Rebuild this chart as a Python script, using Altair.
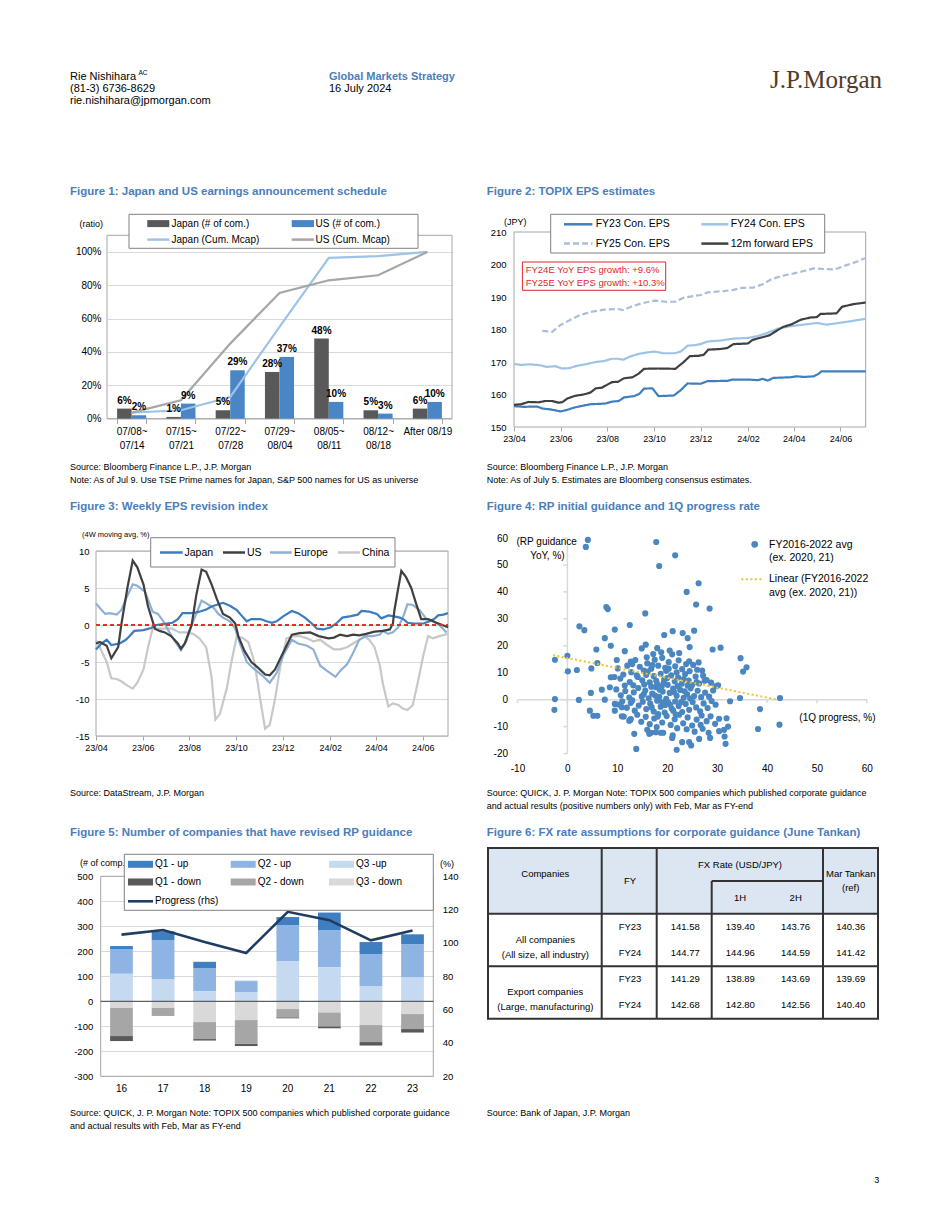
import altair as alt
import pandas as pd

FONT = "Liberation Sans"
TITLE_BLUE = "#4a7ebb"

# ---------------- Figure 1 data ----------------
f1_weeks = ["07/08~|07/14", "07/15~|07/21", "07/22~|07/28", "07/29~|08/04",
            "08/05~|08/11", "08/12~|08/18", "After 08/19"]
f1_japan_cnt = [0.06, 0.01, 0.05, 0.28, 0.48, 0.05, 0.06]
f1_us_cnt = [0.02, 0.09, 0.29, 0.37, 0.10, 0.03, 0.10]
f1_japan_cum = [0.036, 0.05, 0.13, 0.55, 0.965, 0.975, 1.0]
f1_us_cum = [0.036, 0.11, 0.45, 0.754, 0.83, 0.86, 1.0]

# ---------------- Figure 2 data (date, JPY) ----------------
f2_fy23 = [("2023-04-01", 156.4), ("2023-04-14", 156.2), ("2023-05-01", 156.3), ("2023-05-08", 155.7),
           ("2023-05-19", 155.4), ("2023-06-01", 154.8), ("2023-06-10", 155.3), ("2023-06-19", 156.0),
           ("2023-06-27", 156.4), ("2023-07-10", 157.0), ("2023-07-29", 157.2), ("2023-08-07", 157.8),
           ("2023-08-16", 158.0), ("2023-08-23", 159.1), ("2023-09-05", 159.5), ("2023-09-12", 160.2),
           ("2023-09-18", 161.8), ("2023-09-29", 161.9), ("2023-10-07", 159.5), ("2023-10-27", 159.7),
           ("2023-11-05", 161.3), ("2023-11-14", 163.4), ("2023-12-01", 163.3), ("2023-12-10", 164.1),
           ("2024-01-05", 164.2), ("2024-01-12", 164.6), ("2024-02-01", 164.6), ("2024-02-14", 164.4),
           ("2024-02-20", 164.8), ("2024-02-27", 164.3), ("2024-03-05", 165.1), ("2024-03-27", 165.3),
           ("2024-04-05", 165.6), ("2024-04-14", 165.4), ("2024-04-27", 165.6), ("2024-05-03", 166.3),
           ("2024-05-07", 167.1), ("2024-07-04", 167.1)]
f2_fy24 = [("2023-04-01", 169.4), ("2023-04-10", 169.1), ("2023-04-22", 169.3), ("2023-05-05", 169.0),
           ("2023-05-14", 168.5), ("2023-05-25", 168.7), ("2023-06-03", 168.0), ("2023-06-12", 168.1),
           ("2023-06-22", 168.8), ("2023-07-06", 169.4), ("2023-07-17", 170.0), ("2023-07-28", 170.3),
           ("2023-08-07", 171.0), ("2023-08-15", 171.0), ("2023-08-22", 170.7), ("2023-08-31", 171.7),
           ("2023-09-11", 172.5), ("2023-09-24", 173.0), ("2023-10-02", 173.2), ("2023-10-13", 172.7),
           ("2023-10-28", 172.7), ("2023-11-05", 173.2), ("2023-11-14", 175.0), ("2023-11-24", 175.2),
           ("2023-12-01", 175.5), ("2023-12-10", 176.3), ("2023-12-27", 176.6), ("2024-01-13", 177.2),
           ("2024-02-01", 177.4), ("2024-02-14", 178.0), ("2024-02-27", 179.0), ("2024-03-10", 180.2),
           ("2024-03-27", 181.0), ("2024-04-14", 181.5), ("2024-05-01", 182.0), ("2024-05-14", 181.5),
           ("2024-05-27", 181.9), ("2024-06-13", 182.5), ("2024-07-04", 183.3)]
f2_fy25 = [("2023-05-08", 179.6), ("2023-05-21", 179.3), ("2023-06-01", 181.4), ("2023-06-14", 183.0),
           ("2023-06-27", 184.5), ("2023-07-14", 185.6), ("2023-07-28", 186.1), ("2023-08-15", 186.3),
           ("2023-08-22", 186.0), ("2023-09-01", 187.0), ("2023-09-14", 188.0), ("2023-10-02", 188.9),
           ("2023-10-18", 188.5), ("2023-10-29", 188.6), ("2023-11-09", 189.8), ("2023-11-22", 190.3),
           ("2023-12-01", 190.6), ("2023-12-10", 191.4), ("2023-12-31", 191.8), ("2024-01-13", 192.2),
           ("2024-01-24", 192.8), ("2024-02-08", 192.9), ("2024-02-21", 194.0), ("2024-03-03", 195.5),
           ("2024-03-18", 196.6), ("2024-03-31", 197.2), ("2024-04-14", 198.0), ("2024-04-27", 198.8),
           ("2024-05-12", 198.6), ("2024-05-25", 198.5), ("2024-06-05", 199.5), ("2024-06-18", 200.5),
           ("2024-07-04", 202.0)]
f2_fwd = [("2023-04-01", 156.8), ("2023-04-10", 157.0), ("2023-04-20", 157.7), ("2023-05-03", 157.6),
          ("2023-05-12", 158.0), ("2023-05-21", 158.0), ("2023-05-29", 157.5), ("2023-06-03", 157.6),
          ("2023-06-10", 158.8), ("2023-06-20", 159.6), ("2023-07-01", 160.0), ("2023-07-10", 160.6),
          ("2023-07-17", 161.9), ("2023-07-25", 162.1), ("2023-08-07", 163.8), ("2023-08-15", 163.9),
          ("2023-08-23", 165.0), ("2023-09-03", 165.3), ("2023-09-11", 166.4), ("2023-09-18", 167.9),
          ("2023-10-06", 168.0), ("2023-10-29", 167.9), ("2023-11-09", 170.0), ("2023-11-17", 171.8),
          ("2023-11-28", 171.9), ("2023-12-05", 172.2), ("2023-12-11", 173.8), ("2023-12-27", 174.0),
          ("2024-01-05", 174.3), ("2024-01-13", 175.5), ("2024-02-01", 175.7), ("2024-02-07", 176.8),
          ("2024-02-18", 177.5), ("2024-02-29", 178.2), ("2024-03-08", 179.4), ("2024-03-18", 180.8),
          ("2024-03-29", 181.6), ("2024-04-10", 183.0), ("2024-04-23", 183.7), ("2024-05-01", 183.8),
          ("2024-05-06", 184.8), ("2024-05-21", 184.9), ("2024-05-27", 185.0), ("2024-06-03", 187.0),
          ("2024-06-18", 187.8), ("2024-07-04", 188.3)]

# ---------------- Figure 3 data (date, %) ----------------
f3_japan = [("2023-04-01", -3.3), ("2023-04-08", -2.5), ("2023-04-15", -2.0), ("2023-04-21", -2.7),
            ("2023-05-02", -2.5), ("2023-05-10", -2.0), ("2023-05-15", -1.5), ("2023-05-21", -0.8),
            ("2023-06-02", -0.7), ("2023-06-12", -0.4), ("2023-06-19", 0.0), ("2023-07-02", 0.2),
            ("2023-07-10", 0.3), ("2023-07-17", 0.8), ("2023-07-23", 1.6), ("2023-08-06", 1.6),
            ("2023-08-14", 1.8), ("2023-08-23", 2.1), ("2023-08-30", 2.5), ("2023-09-14", 3.0),
            ("2023-09-23", 2.6), ("2023-10-02", 2.0), ("2023-10-08", 1.3), ("2023-10-15", 0.5),
            ("2023-10-21", 0.8), ("2023-11-02", 0.8), ("2023-11-10", 0.5), ("2023-11-17", 0.3),
            ("2023-11-23", 0.5), ("2023-12-02", 1.2), ("2023-12-13", 1.9), ("2023-12-21", 1.6),
            ("2023-12-30", 1.0), ("2024-01-08", 0.2), ("2024-01-15", -0.5), ("2024-01-23", -0.6),
            ("2024-02-02", -0.3), ("2024-02-10", 0.3), ("2024-02-17", 1.0), ("2024-02-28", 1.2),
            ("2024-03-08", 1.4), ("2024-03-13", 1.9), ("2024-03-23", 1.8), ("2024-04-02", 1.5),
            ("2024-04-08", 0.9), ("2024-04-17", 1.3), ("2024-04-23", 1.2), ("2024-05-02", 1.0),
            ("2024-05-08", 0.7), ("2024-05-12", 0.3), ("2024-05-21", 0.2), ("2024-06-02", 0.2),
            ("2024-06-10", 0.5), ("2024-06-17", 0.9), ("2024-06-21", 1.3), ("2024-06-28", 1.4),
            ("2024-07-04", 1.6)]
f3_us = [("2023-04-01", -2.5), ("2023-04-06", -2.3), ("2023-04-15", -2.8), ("2023-04-21", -4.5),
         ("2023-04-30", -3.0), ("2023-05-04", 0.0), ("2023-05-12", 5.0), ("2023-05-19", 8.7),
         ("2023-05-25", 7.8), ("2023-06-02", 5.5), ("2023-06-08", 2.5), ("2023-06-17", -0.5),
         ("2023-06-23", -0.8), ("2023-06-30", -1.0), ("2023-07-08", -1.5), ("2023-07-17", -2.5),
         ("2023-07-21", -3.2), ("2023-07-26", -2.5), ("2023-08-04", 0.0), ("2023-08-10", 4.0),
         ("2023-08-17", 7.5), ("2023-08-23", 7.2), ("2023-08-30", 5.5), ("2023-09-06", 3.5),
         ("2023-09-14", 1.5), ("2023-09-23", 1.0), ("2023-09-30", 0.2), ("2023-10-04", -1.5),
         ("2023-10-12", -3.5), ("2023-10-21", -5.0), ("2023-10-30", -5.8), ("2023-11-08", -6.7),
         ("2023-11-14", -6.8), ("2023-11-21", -6.0), ("2023-11-28", -4.5), ("2023-12-06", -2.8),
         ("2023-12-13", -1.3), ("2023-12-23", -1.1), ("2024-01-06", -1.0), ("2024-01-17", -1.5),
         ("2024-01-30", -1.8), ("2024-02-06", -1.7), ("2024-02-14", -1.3), ("2024-02-23", -1.5),
         ("2024-03-02", -1.3), ("2024-03-10", -1.4), ("2024-03-19", -1.2), ("2024-03-30", -0.9),
         ("2024-04-10", -0.8), ("2024-04-19", -0.6), ("2024-04-23", 0.2), ("2024-04-25", 2.0),
         ("2024-04-30", 5.0), ("2024-05-04", 7.3), ("2024-05-10", 6.5), ("2024-05-17", 5.0),
         ("2024-05-23", 3.0), ("2024-05-30", 0.8), ("2024-06-08", 0.8), ("2024-06-19", 0.3),
         ("2024-07-04", -0.3)]
f3_europe = [("2023-04-01", 2.9), ("2023-04-06", 2.3), ("2023-04-13", 1.5), ("2023-04-19", 1.6),
             ("2023-04-28", 1.4), ("2023-05-04", 2.0), ("2023-05-10", 3.5), ("2023-05-19", 5.5),
             ("2023-05-25", 5.3), ("2023-06-04", 4.5), ("2023-06-14", 1.8), ("2023-06-21", 1.5),
             ("2023-06-28", 0.5), ("2023-07-06", -1.0), ("2023-07-15", -2.5), ("2023-07-21", -3.4),
             ("2023-07-28", -2.2), ("2023-08-04", 0.0), ("2023-08-10", 1.5), ("2023-08-17", 3.3),
             ("2023-08-25", 2.8), ("2023-09-02", 2.3), ("2023-09-08", 1.5), ("2023-09-14", 1.0),
             ("2023-09-23", 0.5), ("2023-09-30", -0.5), ("2023-10-06", -2.5), ("2023-10-15", -5.0),
             ("2023-10-23", -5.8), ("2023-11-04", -6.8), ("2023-11-14", -7.8), ("2023-11-23", -6.5),
             ("2023-12-02", -4.0), ("2023-12-13", -2.0), ("2023-12-21", -2.5), ("2024-01-02", -2.8),
             ("2024-01-10", -3.3), ("2024-01-19", -5.5), ("2024-01-28", -6.2), ("2024-02-08", -7.0),
             ("2024-02-14", -6.2), ("2024-02-23", -5.3), ("2024-03-01", -4.0), ("2024-03-10", -2.0),
             ("2024-03-19", -1.5), ("2024-03-28", -1.5), ("2024-04-06", -1.3), ("2024-04-10", -0.8),
             ("2024-04-17", -1.2), ("2024-04-23", -1.0), ("2024-04-30", -0.3), ("2024-05-06", 1.0),
             ("2024-05-12", 2.8), ("2024-05-19", 2.7), ("2024-05-28", 2.0), ("2024-06-06", 0.8),
             ("2024-06-14", 0.5), ("2024-06-23", 0.0), ("2024-07-02", -1.0)]
f3_china = [("2023-04-01", -2.0), ("2023-04-06", -3.0), ("2023-04-15", -5.0), ("2023-04-21", -7.2),
            ("2023-04-28", -7.3), ("2023-05-04", -7.6), ("2023-05-12", -8.2), ("2023-05-19", -8.6),
            ("2023-05-25", -7.8), ("2023-06-02", -6.0), ("2023-06-08", -3.0), ("2023-06-14", -0.5),
            ("2023-06-23", -0.5), ("2023-07-02", -0.5), ("2023-07-10", -0.5), ("2023-07-19", -1.0),
            ("2023-07-28", -1.0), ("2023-08-06", -1.2), ("2023-08-14", -1.8), ("2023-08-23", -3.0),
            ("2023-08-30", -7.0), ("2023-09-04", -12.8), ("2023-09-10", -12.0), ("2023-09-19", -8.5),
            ("2023-09-25", -5.0), ("2023-10-02", -1.5), ("2023-10-10", -1.8), ("2023-10-17", -2.3),
            ("2023-10-25", -5.0), ("2023-11-02", -10.3), ("2023-11-08", -14.0), ("2023-11-14", -13.5),
            ("2023-11-21", -10.0), ("2023-11-28", -5.5), ("2023-12-06", -1.8), ("2023-12-15", -1.5),
            ("2023-12-23", -1.5), ("2024-01-02", -1.8), ("2024-01-10", -2.2), ("2024-01-19", -2.0),
            ("2024-01-28", -2.7), ("2024-02-06", -3.3), ("2024-02-14", -3.3), ("2024-02-23", -3.0),
            ("2024-03-02", -2.5), ("2024-03-10", -2.0), ("2024-03-17", -1.5), ("2024-03-23", -2.0),
            ("2024-03-30", -3.0), ("2024-04-06", -5.5), ("2024-04-10", -8.0), ("2024-04-17", -11.0),
            ("2024-04-23", -10.6), ("2024-04-30", -10.8), ("2024-05-06", -11.3), ("2024-05-12", -11.5),
            ("2024-05-19", -10.8), ("2024-05-25", -8.0), ("2024-06-02", -4.0), ("2024-06-08", -1.5),
            ("2024-06-14", -1.8), ("2024-06-23", -1.5), ("2024-07-04", -1.2)]

# ---------------- Figure 4 data (1Q progress %, RP guidance YoY %) ----------------
f4_points = [
    (4.1, 59.3), (3.7, 56.7), (17.8, 58.5), (21.6, 53.6), (18.4, 49.6), (26.3, 43.2), (23.9, 40.0),
    (25.8, 35.3), (28.5, 33.8), (7.8, 34.4), (8.1, 33.6), (15.6, 32.0), (2.4, 27.2), (3.4, 25.8),
    (12.5, 27.7), (9.5, 26.0), (21.1, 25.4), (23.1, 24.7), (25.4, 25.6), (19.4, 24.0), (7.5, 22.8),
    (24.1, 22.8), (8.7, 20.0), (15.7, 20.4), (14.9, 19.0), (5.8, 18.6), (11.5, 18.0), (24.5, 19.5),
    (18.0, 19.1), (29.1, 18.6), (30.7, 19.3), (34.7, 15.4), (35.9, 12.0), (35.2, 10.4), (-2.5, 14.8),
    (0.0, 16.3), (0.1, 10.5), (1.9, 11.0), (4.8, 11.6), (6.0, 13.6), (9.9, 14.7), (12.7, 14.1),
    (13.0, 13.2), (-2.5, 0.2), (-2.6, -3.8), (2.3, -0.1), (4.7, 2.5), (4.5, -4.1), (5.2, -6.0),
    (6.0, -6.0), (6.9, 3.7), (7.5, 0.0), (8.7, 8.3), (9.5, -1.6), (9.5, -4.1), (8.5, 4.6), (10.9, -2.8),
    (10.9, -6.2), (12.7, -7.2), (12.4, -7.8), (13.4, -12.7), (13.8, -18.3), (16.4, -12.7), (17.7, -12.1),
    (18.7, -12.3), (21.9, -18.6), (21.1, -13.3), (27.9, 7.3), (30.2, 5.3), (34.6, 0.6), (42.6, 0.6),
    (38.6, -3.5), (42.5, -9.3), (38.2, -10.9), (32.6, -0.6), (29.7, -1.9), (31.9, -6.9), (32.2, -10.0),
    (31.4, -11.2), (30.4, -11.7), (31.5, -13.7), (31.7, -16.4), (28.6, -14.2), (28.3, -12.3), (26.7, -9.4),
    (26.4, -14.6), (24.4, -15.8), (24.8, -17.0), (21.0, -14.2), (23.0, -15.8), (16.7, -12.3), (19.2, -12.3),
    (14.5, 12.2), (15.3, 10.8), (16.0, 13.5), (16.8, 11.5), (17.5, 14.8), (18.2, 12.6), (19.0, 15.5),
    (19.6, 11.8), (20.3, 13.9), (21.0, 16.8), (21.6, 12.4), (22.3, 14.6), (23.0, 11.3), (23.8, 13.2),
    (24.5, 10.6), (25.2, 12.9), (26.0, 11.1), (17.2, 16.9), (18.8, 17.6), (20.5, 18.2), (22.4, 17.3),
    (15.9, 15.7), (13.6, 14.7), (12.0, 12.6), (11.2, 9.3), (10.6, 7.8), (9.4, 8.4), (10.1, 11.6),
    (12.8, 10.2), (13.9, 9.0), (27.0, 10.8), (26.3, 13.8), (24.4, 14.2), (25.9, 6.5), (27.5, 7.0),
    (28.8, 6.3), (29.8, 5.0), (14.1, 8.4), (15.0, 7.2), (15.8, 9.2), (16.5, 6.4), (17.3, 8.7), (18.0, 5.8),
    (18.7, 9.6), (19.4, 7.4), (20.1, 5.5), (20.8, 9.0), (21.5, 6.8), (22.2, 8.2), (22.9, 5.9), (23.6, 9.5),
    (24.3, 7.1), (25.0, 5.4), (25.7, 8.6), (26.4, 6.0), (27.2, 8.9), (12.5, 6.5), (13.2, 5.3), (11.5, 5.2),
    (16.1, 10.4), (19.8, 10.7), (21.9, 10.1), (23.3, 7.6), (17.8, 7.0), (15.4, 5.6), (9.8, 3.8), (10.7, 1.6),
    (11.6, 3.2), (12.4, 0.8), (13.3, 2.7), (14.2, 4.3), (14.9, 1.2), (15.6, 3.4), (16.3, 0.5), (17.0, 2.2),
    (17.7, 4.6), (18.4, 1.0), (19.1, 3.0), (19.8, 0.3), (20.5, 2.5), (21.2, 4.1), (21.9, 1.4), (22.6, 3.6),
    (23.3, 0.7), (24.0, 2.0), (24.7, 4.2), (25.4, 1.3), (26.1, 3.3), (26.8, 0.9), (27.6, 2.6), (28.4, 1.1),
    (29.2, 3.4), (18.9, 4.9), (10.2, -1.8), (11.0, -0.6), (11.9, -3.0), (12.7, -1.2), (13.5, -4.1),
    (14.3, -2.2), (15.1, -0.8), (15.8, -3.5), (16.6, -1.5), (17.3, -4.4), (18.0, -0.4), (18.7, -2.6),
    (19.5, -4.8), (20.2, -1.1), (20.9, -3.3), (21.6, -0.7), (22.3, -2.4), (23.0, -4.6), (23.7, -1.6),
    (24.4, -3.8), (25.1, -0.9), (25.8, -2.9), (26.6, -4.3), (27.3, -1.4), (28.1, -3.1), (28.9, -0.5),
    (16.9, -2.9), (21.2, -4.1), (19.6, -2.0), (11.3, -6.3), (12.6, -7.6), (14.0, -5.6), (14.8, -8.2),
    (15.7, -6.4), (16.5, -9.1), (17.4, -7.0), (18.2, -5.4), (19.0, -8.5), (19.9, -6.1), (20.7, -9.4),
    (21.5, -7.3), (22.4, -5.6), (23.2, -8.8), (24.1, -6.6), (25.0, -9.6), (25.9, -7.4), (26.9, -5.9),
    (27.9, -8.0), (28.7, -6.2), (29.6, -9.0), (22.0, -10.6), (23.9, -11.0), (17.9, -10.2), (16.0, -11.2),
    (25.5, -11.9), (27.1, -10.8), (30.4, -7.1), (18.5, 3.7), (19.3, 6.2), (20.0, 8.0), (21.4, 2.7),
    (22.1, 5.0), (17.6, 1.5), (16.8, 4.8), (20.6, -1.9), (22.8, -0.9), (19.0, -1.0), (24.6, 0.4),
    (15.3, 2.0), (13.0, -0.3), (21.7, -5.5), (18.1, -6.3), (23.5, 3.1), (20.3, 11.5), (17.0, 12.8),
    (24.1, 5.2),
]
f4_trend_x = [-2.9, 42.1]
f4_trend_y = [16.5, 0.0]
f4_x_ticks = [-10, 0, 10, 20, 30, 40, 50, 60]
f4_y_ticks = [-20, -10, 0, 10, 20, 30, 40, 50, 60]

# ---------------- Figure 5 data ----------------
f5_years = ["16", "17", "18", "19", "20", "21", "22", "23"]
f5_q1_up = [14, 37, 27, 2, 34, 70, 48, 39]
f5_q2_up = [97, 156, 91, 43, 142, 149, 130, 134]
f5_q3_up = [110, 87, 40, 37, 161, 136, 59, 95]
f5_q1_down = [-20, -2, -6, -10, -4, -8, -14, -14]
f5_q2_down = [-114, -31, -68, -94, -33, -56, -68, -60]
f5_q3_down = [-25, -25, -83, -75, -31, -44, -95, -51]
f5_progress = [105.0, 107.8, 100.6, 94.0, 118.7, 113.7, 101.6, 107.5]

# ---------------- Figure 6 data ----------------
f6_rows = ["All-FY23", "All-FY24", "Exp-FY23", "Exp-FY24"]
f6_fy = ["FY23", "FY24", "FY23", "FY24"]
f6_fx = ["141.58", "144.77", "141.29", "142.68"]
f6_1h = ["139.40", "144.96", "138.89", "142.80"]
f6_2h = ["143.76", "144.59", "143.69", "142.56"]
f6_mar = ["140.36", "141.42", "139.69", "140.40"]
f6_groups = ["All companies\n(All size, all industry)", "Export companies\n(Large, manufacturing)"]

# ====================================================================
ONE = pd.DataFrame({"k": [0]})


def T(s, x, y, size=9.0, align="left", bold=False, color="#000000", font=FONT, baseline="middle"):
    return alt.Chart(ONE).mark_text(
        text=s, align=align, baseline=baseline, fontSize=size,
        fontWeight="bold" if bold else "normal", color=color, font=font
    ).encode(x=alt.value(x), y=alt.value(y))


def R(x1, y1, x2, y2, fill="#ffffff", stroke=None, sw=1.0, fill_opacity=1.0):
    kw = dict(fill=fill, fillOpacity=fill_opacity)
    if stroke is not None:
        kw.update(stroke=stroke, strokeWidth=sw)
    else:
        kw.update(strokeWidth=0)
    return alt.Chart(ONE).mark_rect(**kw).encode(
        x=alt.value(x1), x2=alt.value(x2), y=alt.value(y1), y2=alt.value(y2))


def L(x1, y1, x2, y2, color, sw=2.0, dash=None):
    kw = dict(color=color, strokeWidth=sw)
    if dash is not None:
        kw["strokeDash"] = dash
    return alt.Chart(ONE).mark_rule(**kw).encode(
        x=alt.value(x1), x2=alt.value(x2), y=alt.value(y1), y2=alt.value(y2))


def deco(ox, oy):
    def t(s, x, y, *a, **k):
        return T(s, x + ox, y + oy, *a, **k)

    def r(x1, y1, x2, y2, **k):
        return R(x1 + ox, y1 + oy, x2 + ox, y2 + oy, **k)

    def l(x1, y1, x2, y2, *a, **k):
        return L(x1 + ox, y1 + oy, x2 + ox, y2 + oy, *a, **k)

    def title(s, x, y):
        return T(s, x + ox, y + oy, size=11.5, bold=True, color=TITLE_BLUE)

    def frame(w, h):
        return R(ox, oy, ox + w, oy + h, fill="#ffffff", fill_opacity=0, stroke="#a6a6a6", sw=1)

    return t, r, l, title, frame


def spacer(w, h, *extra):
    base = alt.Chart(ONE).mark_point(opacity=0, size=0)
    if extra:
        return alt.layer(base, *extra).properties(width=w, height=h)
    return base.properties(width=w, height=h)


AX_FREE = dict(ticks=False, domain=False, grid=False, title=None, labelFlush=False, labelOverlap=False,
               tickCount=60)

# ---------------- Figure 1 ----------------
W1, H1, DX1, DY1 = 345, 183.3, 11, 3.3
t, r, l, ttl, frm = deco(DX1, DY1)
f1_bar_series = ["Japan (# of com.)", "US (# of com.)"]
f1_line_series = ["Japan (Cum. Mcap)", "US (Cum. Mcap)"]
df1b = pd.DataFrame({"week": f1_weeks * 2,
                     "series": [f1_bar_series[0]] * 7 + [f1_bar_series[1]] * 7,
                     "value": f1_japan_cnt + f1_us_cnt})
df1l = pd.DataFrame({"week": f1_weeks * 2,
                     "series": [f1_line_series[0]] * 7 + [f1_line_series[1]] * 7,
                     "value": f1_japan_cum + f1_us_cum})
x1 = alt.X("week:N", sort=f1_weeks,
           scale=alt.Scale(domain=f1_weeks, paddingInner=0.41, paddingOuter=0.205, range=[DX1, DX1 + W1]),
           axis=alt.Axis(title=None, labelAngle=0, labelExpr="split(datum.label, '|')",
                         tickBand="extent", tickSize=5, tickColor="#a6a6a6", domain=False,
                         labelFontSize=10, labelPadding=3, labelLineHeight=13.5))
y1 = alt.Y("value:Q", scale=alt.Scale(domain=[0, 1.1], nice=False, range=[DY1 + H1, DY1]),
           axis=alt.Axis(title=None, values=[0, 0.2, 0.4, 0.6, 0.8, 1.0], format=".0%",
                         grid=True, gridColor="#d9d9d9", ticks=False, domain=False, tickCount=60,
                         labelFontSize=10, labelPadding=6, labelOverlap=False, offset=-DX1))
xo1 = alt.XOffset("series:N", sort=f1_bar_series, scale=alt.Scale(domain=f1_bar_series))
bars1 = alt.Chart(df1b).mark_bar().encode(
    x=x1, xOffset=xo1, y=y1,
    color=alt.Color("series:N", scale=alt.Scale(domain=f1_bar_series, range=["#595959", "#4a86c5"]), legend=None))
lines1 = alt.Chart(df1l).mark_line(strokeWidth=2.2).encode(
    x=x1, y=y1,
    color=alt.Color("series:N", scale=alt.Scale(domain=f1_line_series, range=["#9dc3e6", "#a6a6a6"]), legend=None))
labels1 = alt.Chart(df1b).mark_text(baseline="bottom", dy=-3, fontSize=10, fontWeight="bold").encode(
    x=x1, xOffset=xo1, y=y1, text=alt.Text("value:Q", format=".0%"))
fig1 = alt.layer(
    frm(W1, H1), bars1, lines1, labels1,
    r(22, -21, 311, 13, stroke="#808080"),
    r(40.3, -15.2, 62.3, -8.2, fill="#595959"),
    r(184.7, -15.2, 207, -8.2, fill="#4a86c5"),
    l(40.3, 4.3, 62.3, 4.3, "#9dc3e6", 2.5),
    l(184.7, 4.3, 207, 4.3, "#a6a6a6", 2.5),
    t("Japan (# of com.)", 64.5, -11.7, 10), t("US (# of com.)", 208.5, -11.7, 10),
    t("Japan (Cum. Mcap)", 64.5, 4.3, 10), t("US (Cum. Mcap)", 208.5, 4.3, 10),
    t("(ratio)", -4, -11.7, 9, align="right"),
    ttl("Figure 1: Japan and US earnings announcement schedule", -37, -43),
    t("Source:  Bloomberg Finance L.P., J.P. Morgan", -37, 232, 9),
    t("Note: As of Jul 9. Use TSE Prime names for Japan, S&P 500 names for US as universe", -37, 245, 9),
).resolve_scale(color="independent").properties(width=DX1 + W1, height=DY1 + H1)


# ---------------- time axes helpers ----------------
def utc(y, m, d):
    return alt.DateTime(year=y, month=m, date=d, utc=True)


TICK_DATES = [utc(2023, 4, 1), utc(2023, 6, 1), utc(2023, 8, 1), utc(2023, 10, 1), utc(2023, 12, 1),
              utc(2024, 2, 1), utc(2024, 4, 1), utc(2024, 6, 1)]


def time_x(x0, w):
    return alt.X("date:T",
                 scale=alt.Scale(type="utc", domain=[utc(2023, 4, 1), utc(2024, 7, 4)], nice=False,
                                 range=[x0, x0 + w]),
                 axis=alt.Axis(title=None, values=TICK_DATES, format="%y/%m", labelFontSize=9,
                               ticks=True, tickSize=4, tickColor="#a6a6a6", domain=False, grid=False,
                               labelPadding=3, labelFlush=False, labelOverlap=False, tickCount=60))


def long_df(named):
    rows = []
    for name, pts in named:
        for d, v in pts:
            rows.append({"series": name, "date": d, "value": v})
    return pd.DataFrame(rows)


# ---------------- Figure 2 ----------------
W2, H2, DX2, DY2 = 351.7, 195, 26, 0
t, r, l, ttl, frm = deco(DX2, DY2)
f2_names = ["FY25 Con. EPS", "FY24 Con. EPS", "FY23 Con. EPS", "12m forward EPS"]
f2_colors = ["#a9bedb", "#9dc3e6", "#3f7fbf", "#404040"]
df2 = long_df([(f2_names[0], f2_fy25), (f2_names[1], f2_fy24), (f2_names[2], f2_fy23), (f2_names[3], f2_fwd)])
lines2 = alt.Chart(df2).mark_line(strokeWidth=2.2).encode(
    x=time_x(DX2, W2),
    y=alt.Y("value:Q", scale=alt.Scale(domain=[150, 210], nice=False, range=[DY2 + H2, DY2]),
            axis=alt.Axis(values=[150, 160, 170, 180, 190, 200, 210], labelFontSize=9.5, labelPadding=8,
                          offset=-DX2, **AX_FREE)),
    color=alt.Color("series:N", scale=alt.Scale(domain=f2_names, range=f2_colors), legend=None),
    strokeDash=alt.StrokeDash("series:N", scale=alt.Scale(domain=f2_names, range=[[6, 3], [1, 0], [1, 0], [1, 0]]), legend=None),
    order=alt.Order("series:N"),
)
fig2 = alt.layer(
    frm(W2, H2), lines2,
    r(36.7, -17.7, 310.7, 21, stroke="#808080"),
    l(50, -7.7, 78.4, -7.7, "#3f7fbf", 2.5), t("FY23 Con. EPS", 81.7, -7.7, 10.5),
    l(187.4, -7.7, 214.4, -7.7, "#9dc3e6", 2.5), t("FY24 Con. EPS", 216.7, -7.7, 10.5),
    l(50, 11.6, 78.4, 11.6, "#a9bedb", 2.5, dash=[6, 3]), t("FY25 Con. EPS", 81.7, 11.6, 10.5),
    l(187.4, 11.6, 214.4, 11.6, "#404040", 2.5), t("12m forward EPS", 216.7, 11.6, 10.5),
    r(8.4, 30, 151.7, 58.3, stroke="#e0262b"),
    t("FY24E YoY EPS growth: +9.6%", 11.7, 37.6, 9.5, color="#e0262b"),
    t("FY25E YoY EPS growth: +10.3%", 11.7, 51.3, 9.5, color="#e0262b"),
    t("(JPY)", -10, -10, 9),
    ttl("Figure 2: TOPIX EPS estimates", -27.3, -39.7),
    t("Source: Bloomberg Finance L.P., J.P. Morgan", -27.3, 235.3, 9),
    t("Note: As of July 5. Estimates are Bloomberg consensus estimates.", -27.3, 248.3, 9),
).properties(width=DX2 + W2, height=DY2 + H2)

# ---------------- Figure 3 ----------------
W3, H3, DX3, DY3 = 352, 185, 0, 13
t, r, l, ttl, frm = deco(DX3, DY3)
f3_names = ["China", "Europe", "Japan", "US"]
f3_colors = ["#c8c8c8", "#8eb0d6", "#3b7bbf", "#404040"]
df3 = long_df([(f3_names[0], f3_china), (f3_names[1], f3_europe), (f3_names[2], f3_japan), (f3_names[3], f3_us)])
sc3 = alt.Scale(domain=[-15, 10], nice=False, range=[DY3 + H3, DY3])
ax3 = alt.Axis(values=[-15, -10, -5, 0, 5, 10], format="d", title=None, tickCount=60,
               grid=True, gridColor="#d9d9d9", ticks=False, domain=False, labelOverlap=False,
               labelFontSize=9.5, labelPadding=7)
lines3 = alt.Chart(df3).mark_line(strokeWidth=2.2).encode(
    x=time_x(DX3, W3), y=alt.Y("value:Q", scale=sc3, axis=ax3),
    color=alt.Color("series:N", scale=alt.Scale(domain=f3_names, range=f3_colors), legend=None),
    order=alt.Order("series:N"),
)
zero3 = alt.Chart(ONE).mark_rule(color="#e0302c", strokeWidth=2, strokeDash=[4, 3]).encode(
    y=alt.YDatum(0, scale=sc3, axis=ax3), x=alt.value(DX3), x2=alt.value(DX3 + W3))
fig3 = alt.layer(
    frm(W3, H3), lines3, zero3,
    r(54.7, -13.3, 299, 16, stroke="#808080"),
    l(64, 1.5, 86.7, 1.5, "#3b7bbf", 2.5), t("Japan", 88.5, 1.5, 10.5),
    l(127, 1.5, 149, 1.5, "#404040", 2.5), t("US", 151, 1.5, 10.5),
    l(174, 1.5, 195.7, 1.5, "#8eb0d6", 2.5), t("Europe", 198, 1.5, 10.5),
    l(242, 1.5, 264, 1.5, "#c8c8c8", 2.5), t("China", 266, 1.5, 10.5),
    t("(4W moving avg, %)", -14, -16, 7.5),
    ttl("Figure 3: Weekly EPS revision index", -26, -44),
    t("Source: DataStream, J.P. Morgan", -26, 242, 9),
).properties(width=DX3 + W3, height=DY3 + H3)

# ---------------- Figure 4 ----------------
W4, H4, DX4, DY4 = 349.3, 215.5, 29.5, 0
t, r, l, ttl, frm = deco(DX4, DY4)
df4 = pd.DataFrame({"x": [p[0] for p in f4_points], "y": [p[1] for p in f4_points]})
df4t = pd.DataFrame({"x": f4_trend_x, "y": f4_trend_y})
sc4x = alt.Scale(domain=[-10, 60], nice=False, range=[DX4, DX4 + W4])
sc4y = alt.Scale(domain=[-20, 60], nice=False, range=[DY4 + H4, DY4])
ax4x = alt.Axis(values=f4_x_ticks, format="d", labelFontSize=10, labelPadding=10, **AX_FREE)
ax4y = alt.Axis(values=f4_y_ticks, format="d", labelFontSize=10, labelPadding=10, offset=-DX4, **AX_FREE)
x4 = alt.X("x:Q", scale=sc4x, axis=ax4x)
y4 = alt.Y("y:Q", scale=sc4y, axis=ax4y)
CROSS = "#d9d9d9"
cross_v = alt.Chart(ONE).mark_rule(color=CROSS, strokeWidth=1.5).encode(
    x=alt.XDatum(0, scale=sc4x, axis=ax4x), y=alt.value(DY4), y2=alt.value(DY4 + H4))
cross_h = alt.Chart(ONE).mark_rule(color=CROSS, strokeWidth=1.5).encode(
    y=alt.YDatum(0, scale=sc4y, axis=ax4y), x=alt.value(DX4), x2=alt.value(DX4 + W4))
ticks_v = alt.Chart(pd.DataFrame({"y": f4_y_ticks})).mark_rule(color=CROSS, strokeWidth=1.5).encode(
    y=y4, x=alt.XDatum(-0.8, scale=sc4x, axis=ax4x), x2=alt.X2Datum(0))
ticks_h = alt.Chart(pd.DataFrame({"x": f4_x_ticks})).mark_rule(color=CROSS, strokeWidth=1.5).encode(
    x=x4, y=alt.YDatum(0, scale=sc4y, axis=ax4y), y2=alt.Y2Datum(-1.3))
pts4 = alt.Chart(df4).mark_circle(size=38, color="#4a86c0", opacity=1).encode(x=x4, y=y4)
trend4 = alt.Chart(df4t).mark_line(color="#f2c12e", strokeWidth=2, strokeDash=[2, 2.5]).encode(x=x4, y=y4)
fig4 = alt.layer(
    cross_v, cross_h, ticks_v, ticks_h, pts4, trend4,
    alt.Chart(ONE).mark_circle(size=45, color="#4a86c0", opacity=1).encode(
        x=alt.value(DX4 + 237.2), y=alt.value(DY4 + 6.3)),
    t("FY2016-2022 avg", 251.5, 6.5, 10.5), t("(ex. 2020, 21)", 251.5, 19.8, 10.5),
    l(223.9, 41.3, 246.5, 41.3, "#f2c12e", 2, dash=[2, 2.5]),
    t("Linear (FY2016-2022", 251.5, 41.3, 10.5), t("avg (ex. 2020, 21))", 251.5, 55, 10.5),
    t("(RP guidance", 29.2, 3.7, 10, align="center"), t("YoY, %)", 29.9, 18, 10, align="center"),
    t("(1Q progress, %)", 358, 179.7, 10, align="right"),
    ttl("Figure 4: RP initial guidance and 1Q progress rate", -30.8, -31),
    t("Source: QUICK, J. P. Morgan Note: TOPIX 500 companies which published corporate guidance", -30.8, 255, 9),
    t("and actual results (positive numbers only) with Feb, Mar as FY-end", -30.8, 268, 9),
).properties(width=DX4 + W4, height=DY4 + H4)

# ---------------- Figure 5 ----------------
W5, H5, DX5, DY5 = 332.6, 200, 4.7, 28.3
t, r, l, ttl, frm = deco(DX5, DY5)
f5_names = ["Q1 - up", "Q2 - up", "Q3 -up", "Q1 - down", "Q2 - down", "Q3 - down"]
f5_colors = ["#3f7fbf", "#8db4e2", "#c5d9f1", "#595959", "#a6a6a6", "#d9d9d9"]
f5_series = [f5_q1_up, f5_q2_up, f5_q3_up, f5_q1_down, f5_q2_down, f5_q3_down]
f5_stack_ord = [2, 1, 0, 2, 1, 0]
rows5 = []
for name, vals, o in zip(f5_names, f5_series, f5_stack_ord):
    for yr, v in zip(f5_years, vals):
        rows5.append({"year": yr, "series": name, "value": v, "ord": o})
df5 = pd.DataFrame(rows5)
df5p = pd.DataFrame({"year": f5_years, "progress": f5_progress})
x5 = alt.X("year:N", sort=f5_years,
           scale=alt.Scale(domain=f5_years, paddingInner=0.453, paddingOuter=0.2265, range=[DX5, DX5 + W5]),
           axis=alt.Axis(title=None, labelAngle=0, ticks=False, domain=False, labelFontSize=10, labelPadding=7))
sc5 = alt.Scale(domain=[-300, 500], nice=False, range=[DY5 + H5, DY5])
ax5 = alt.Axis(values=[-300, -200, -100, 0, 100, 200, 300, 400, 500], format="d", tickCount=60,
               title=None, grid=True, gridColor="#d9d9d9", ticks=False, domain=False,
               labelOverlap=False, labelFontSize=9.5, labelPadding=8, offset=-DX5)
bars5 = alt.Chart(df5).mark_bar().encode(
    x=x5,
    y=alt.Y("value:Q", stack="zero", scale=sc5, axis=ax5),
    color=alt.Color("series:N", scale=alt.Scale(domain=f5_names, range=f5_colors), legend=None),
    order=alt.Order("ord:Q", sort="ascending"),
)
zero5 = alt.Chart(ONE).mark_rule(color="#404040", strokeWidth=1).encode(
    y=alt.YDatum(0, scale=sc5, axis=ax5), x=alt.value(DX5), x2=alt.value(DX5 + W5))
line5 = alt.Chart(df5p).mark_line(color="#1f3d63", strokeWidth=2.6).encode(
    x=x5,
    y=alt.Y("progress:Q", scale=alt.Scale(domain=[20, 140], nice=False, range=[DY5 + H5, DY5]),
            axis=alt.Axis(orient="right", values=[20, 40, 60, 80, 100, 120, 140], labelFontSize=9.5,
                          labelPadding=9, **AX_FREE)))
core5 = alt.layer(alt.layer(frm(W5, H5), bars5, zero5), line5).resolve_scale(y="independent")
leg5 = []
for i, (name, col) in enumerate(zip(f5_names, f5_colors)):
    cx = [27.3, 130, 228.3][i % 3]
    ry = [-12, 5.7][i // 3]
    leg5.append(r(cx, ry - 3.5, cx + 25, ry + 3.5, fill=col))
    leg5.append(t(name, cx + 27, ry, 10))
fig5 = alt.layer(
    core5,
    t("(# of comp.)", -20.7, -13.3, 9),
    r(23.6, -22, 332.6, 34, stroke="#808080"),
    *leg5,
    l(27.3, 25, 52.3, 25, "#1f3d63", 2.6), t("Progress (rhs)", 54.3, 25, 10),
    t("(%)", 339.3, -12, 9),
    ttl("Figure 5: Number of companies that have revised RP guidance", -30.7, -43.3),
    t("Source: QUICK, J. P. Morgan Note: TOPIX 500 companies which published corporate guidance", -30.7, 236.7, 9),
    t("and actual results with Feb, Mar as FY-end", -30.7, 249.7, 9),
).properties(width=DX5 + W5, height=DY5 + H5)

# ---------------- Figure 6 (table) ----------------
W6, H6 = 390, 170.7
t, r, l, ttl, frm = deco(0, 0)
f6_cols = ["FY", "FX", "1H", "2H", "Mar"]
rows6 = []
for rr, a, b, c, d, e in zip(f6_rows, f6_fy, f6_fx, f6_1h, f6_2h, f6_mar):
    for col, txt in zip(f6_cols, [a, b, c, d, e]):
        rows6.append({"row": rr, "col": col, "txt": txt})
df6 = pd.DataFrame(rows6)
df6g = pd.DataFrame({"row": [f6_rows[0], f6_rows[2]], "txt": f6_groups})
y6 = alt.Y("row:N", sort=f6_rows, scale=alt.Scale(type="point", domain=f6_rows, range=[79, 157.3], padding=0), axis=None)
cells6 = alt.Chart(df6).mark_text(fontSize=9.5, baseline="middle", align="center").encode(
    x=alt.X("col:N", sort=f6_cols, scale=alt.Scale(type="point", domain=f6_cols, range=[142, 362.7], padding=0), axis=None),
    y=y6, text="txt:N")
groups6 = alt.Chart(df6g).mark_text(fontSize=9.5, baseline="middle", align="center", lineBreak="\n",
                                    lineHeight=15, dy=13).encode(x=alt.value(57.3), y=y6, text="txt:N")
LC = "#333333"
fig6 = alt.layer(
    r(0, 0, 390, 65.7, fill="#dce6f2"),
    cells6, groups6,
    l(0, 65.7, 390, 65.7, LC, 2), l(0, 118.3, 390, 118.3, LC, 2), l(223.7, 33, 335, 33, LC, 2),
    l(113.7, 0, 113.7, 170.7, LC, 2), l(168.7, 0, 168.7, 170.7, LC, 2),
    l(223.7, 33, 223.7, 170.7, LC, 2), l(335, 0, 335, 170.7, LC, 2),
    r(0, 0, 390, 170.7, fill="#ffffff", fill_opacity=0, stroke=LC, sw=2),
    t("Companies", 57.3, 26.3, 9.5, align="center"), t("FY", 142, 33.3, 9.5, align="center"),
    t("FX Rate (USD/JPY)", 252, 16.7, 9.5, align="center"),
    t("1H", 252, 50, 9.5, align="center"), t("2H", 307.7, 50, 9.5, align="center"),
    t("Mar Tankan", 362.7, 25.7, 9.5, align="center"), t("(ref)", 362.7, 39.7, 9.5, align="center"),
    ttl("Figure 6: FX rate assumptions for corporate guidance (June Tankan)", -1.3, -15),
    t("Source: Bank of Japan, J.P. Morgan", -1.3, 265, 9),
    t("3", 388.7, 332, 9, align="center"),
).properties(width=W6, height=H6)

# ---------------- Header ----------------
header = spacer(
    10, 1,
    T("Rie Nishihara", 62, 69, 11), T("AC", 130.5, 65, 6.5),
    T("(81-3) 6736-8629", 62, 81, 11), T("rie.nishihara@jpmorgan.com", 62, 93, 11),
    T("Global Markets Strategy", 321, 69, 11, bold=True, color=TITLE_BLUE),
    T("16 July 2024", 321, 81, 11),
    T("J.P.Morgan", 762, 80, 25, font="Liberation Serif", color="#4f3b2b", baseline="alphabetic"),
)

# ---------------- Page grid ----------------
items = [
    header, spacer(10, 223.7), spacer(10, 1), spacer(10, 1),
    spacer(88, 1), fig1, spacer(35.3, 1), fig2,
    spacer(10, 1), spacer(10, 110.3), spacer(10, 1), spacer(10, 1),
    spacer(88, 1), fig3, spacer(35.3, 1), fig4,
    spacer(10, 1), spacer(10, 93.5), spacer(10, 1), spacer(10, 1),
    spacer(88, 1), fig5, spacer(35.3, 1), fig6,
]

chart = alt.concat(*items, columns=4, spacing=0, bounds="flush", align="each").resolve_scale(
    color="independent", strokeDash="independent"
).properties(padding=0, background="#ffffff").configure(
    font=FONT,
    locale={"number": {"decimal": ".", "thousands": ",", "grouping": [3], "currency": ["$", ""], "minus": "-"}},
).configure_view(strokeWidth=0).configure_axis(
    labelFont=FONT, labelColor="#000000", titleFont=FONT
).configure_text(font=FONT)

chart.save("out.html", embed_options={"renderer": "svg", "actions": False})
